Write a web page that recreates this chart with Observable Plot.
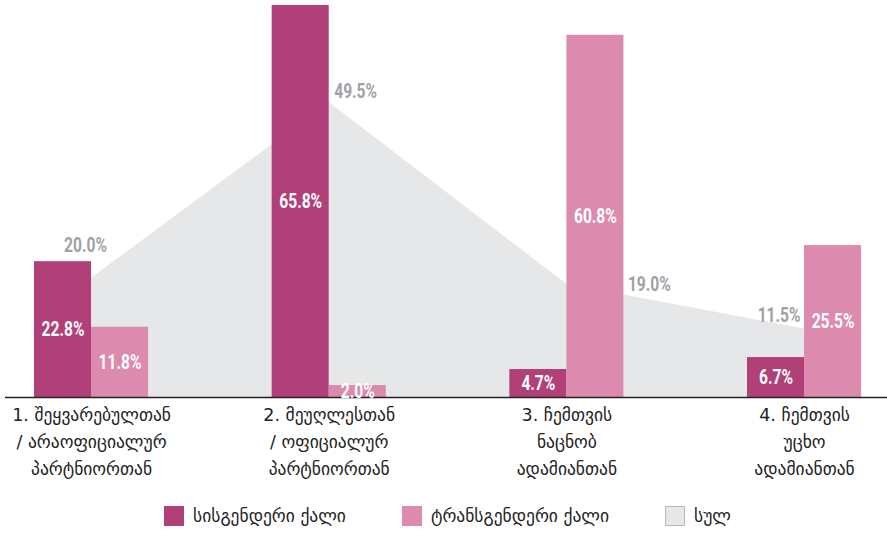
<!DOCTYPE html>
<html><head><meta charset="utf-8">
<script src="https://cdn.jsdelivr.net/npm/d3@7"></script>
<script src="https://cdn.jsdelivr.net/npm/@observablehq/plot@0.6"></script>
<style>
body{margin:0;background:#fff;font-family:"DejaVu Sans",sans-serif;}
#legend{display:flex;justify-content:center;align-items:center;gap:56px;height:40px;font-size:17.5px;color:#222;padding-left:8px;}
.item{display:flex;align-items:center;gap:9px;}
.sw{width:20px;height:20px;box-sizing:border-box;}
</style></head><body>
<div id="chart"></div><div id="legend"></div>
<script>
const categories = [
  "1. შეყვარებულთან\n/ არაოფიციალურ\nპარტნიორთან",
  "2. მეუღლესთან\n/ ოფიციალურ\nპარტნიორთან",
  "3. ჩემთვის\nნაცნობ\nადამიანთან",
  "4. ჩემთვის\nუცხო\nადამიანთან"
];
const cisValues = [22.8, 65.8, 4.7, 6.7];
const transValues = [11.8, 2.0, 60.8, 25.5];
const totalValues = [20.0, 49.5, 19.0, 11.5];
const seriesNames = ["სისგენდერი ქალი", "ტრანსგენდერი ქალი", "სულ"];
const colors = ["#b04077", "#dc8aae", "#e6e7e8"];

const rows = categories.map((c, i) => ({i, label: c, cis: cisValues[i], trans: transValues[i], total: totalValues[i]}));
const fmt = v => d3.format(".1f")(v) + "%";
const bw = 0.24;
const valFont = {fontFamily: "Roboto, sans-serif", fontWeight: "bold", fontSize: 19.5, className: "val"};
const totalStyle = {...valFont, fill: "#a0a1a5"};

const plot = Plot.plot({
  width: 887, height: 496,
  marginLeft: 5, marginRight: 0, marginTop: 5, marginBottom: 99,
  x: {type: "linear", domain: [-0.362, 3.349], axis: null},
  y: {domain: [0, 65.8], axis: null},
  marks: [
    Plot.areaY(rows, {x: "i", y1: 0, y2: "total", fill: colors[2], curve: "linear"}),
    Plot.rectY(rows, {x1: d => d.i - bw, x2: "i", y1: 0, y2: "cis", fill: colors[0]}),
    Plot.rectY(rows, {x1: "i", x2: d => d.i + bw, y1: 0, y2: "trans", fill: colors[1]}),
    Plot.ruleY([0], {stroke: "#222", strokeWidth: 1.3}),
    Plot.text(rows, {x: d => d.i - bw / 2, y: d => d.cis / 2, text: d => fmt(d.cis), fill: "white", ...valFont}),
    Plot.text(rows, {x: d => d.i + bw / 2, y: d => d.trans / 2, text: d => fmt(d.trans), fill: "white", ...valFont}),
    Plot.text(rows.filter(d => d.i === 0), {x: "i", y: "total", text: d => fmt(d.total), dx: -6, dy: -33, ...totalStyle}),
    Plot.text(rows.filter(d => d.i === 1), {x: "i", y: "total", text: d => fmt(d.total), textAnchor: "start", dx: 5, dy: -11, ...totalStyle}),
    Plot.text(rows.filter(d => d.i === 2), {x: "i", y: "total", text: d => fmt(d.total), textAnchor: "start", dx: 61, dy: 0, ...totalStyle}),
    Plot.text(rows.filter(d => d.i === 3), {x: "i", y: "total", text: d => fmt(d.total), textAnchor: "end", dx: -4, dy: -13, ...totalStyle}),
    Plot.text(rows, {x: "i", y: 0, text: "label", lineAnchor: "top", dy: 5, fontSize: 17.5, lineHeight: 1.52, fill: "#222", fontFamily: "DejaVu Sans"})
  ]
});
// horizontally condense the value labels (condensed-face look)
plot.querySelectorAll("g[font-family^='Roboto'] text").forEach(t => {
  const tr = t.getAttribute("transform") || "";
  t.setAttribute("transform", tr + " scale(0.8,1)");
  const dx = t.getAttribute("dx");
  if (dx) t.setAttribute("dx", +dx / 0.8);
});
document.getElementById("chart").appendChild(plot);

const legend = document.getElementById("legend");
seriesNames.forEach((n, k) => {
  const it = document.createElement("div");
  it.className = "item";
  const sw = document.createElement("div");
  sw.className = "sw";
  sw.style.background = colors[k];
  if (k === 2) sw.style.border = "1px solid #b8b9bb";
  const t = document.createElement("span");
  t.textContent = n;
  it.appendChild(sw); it.appendChild(t);
  legend.appendChild(it);
});
</script>
</body></html>
